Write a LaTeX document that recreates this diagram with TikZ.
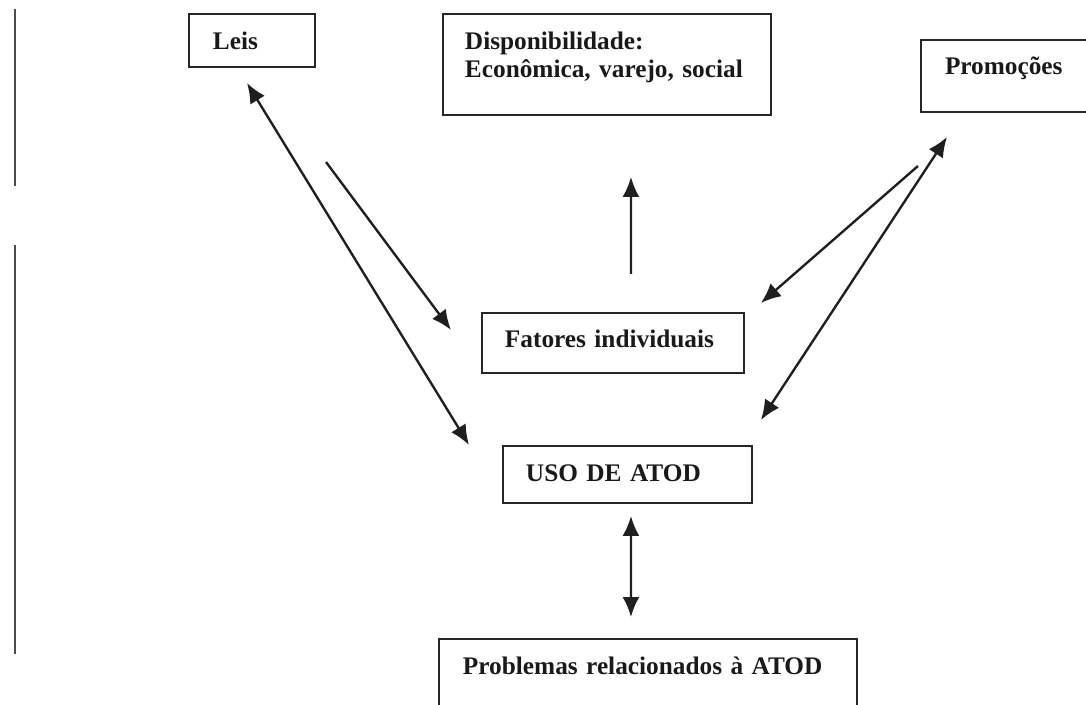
\documentclass[tikz,border=0pt]{standalone}
\usepackage{fontspec}
\setmainfont{Liberation Serif}
\usepackage{tikz}
\usetikzlibrary{calc, arrows.meta, positioning}

\tikzset{
    caixa/.style={
        draw=black!85, line width=1.3pt,
        anchor=north west, inner ysep=0pt, outer sep=0pt,
        align=left, text=black!90,
        font=\bfseries\fontsize{14.4}{15.9}\selectfont
    },
    seta/.style={line width=1.35pt, draw=black!88}
}

\begin{document}
\begin{tikzpicture}[x=0.02cm, y=-0.02cm, >={Latex[length=0.4cm, width=0.34cm]}]

    \useasboundingbox (0,0) rectangle (1086,705);

    % 1. Linhas verticais na margem esquerda
    \draw[line width=1.4pt, black!70] (15,9) -- (15,186);
    \draw[line width=1.4pt, black!70] (15,245) -- (15,654);

    % 2. Caixas
    \node[caixa, text width=1.56cm, inner xsep=0.48cm,
        text height=0.72cm, text depth=0.34cm]
        (leis) at (189,14) {Leis};

    \node[caixa, text width=5.68cm, inner xsep=0.44cm,
        text height=0.72cm, text depth=1.30cm]
        (disp) at (443,14) {Disponibilidade:\\Econômica, varejo, social};

    \node[caixa, text width=2.62cm, inner xsep=0.48cm,
        text height=0.70cm, text depth=0.74cm]
        (promo) at (921,40) {Promoções};

    \node[caixa, text width=4.32cm, inner xsep=0.46cm,
        text height=0.70cm, text depth=0.50cm]
        (fatores) at (482,313) {Fatores individuais};

    \node[caixa, text width=4.06cm, inner xsep=0.46cm,
        text height=0.72cm, text depth=0.42cm]
        (uso) at (503,446) {USO DE ATOD};

    \node[caixa, text width=7.40cm, inner xsep=0.48cm,
        text height=0.72cm, text depth=1.00cm]
        (problemas) at (439,639) {Problemas relacionados à ATOD};

    % 3. Pontas das setas
    \coordinate (leisA) at ($(leis.south)+(-5,16)$);
    \coordinate (usoA) at ($(uso.north west)+(-34,-1)$);
    \coordinate (leisB) at ($(leis.south)+(74,95)$);
    \coordinate (fatoresB) at ($(fatores.west)+(-31,-13)$);
    \coordinate (fatoresC) at ($(fatores.north)+(18,-39)$);
    \coordinate (dispC) at ($(disp.south)+(24,62)$);
    \coordinate (promoD) at ($(promo.south west)+(-3,54)$);
    \coordinate (fatoresD) at ($(fatores.north east)+(17,-10)$);
    \coordinate (promoE) at ($(promo.south west)+(26,25)$);
    \coordinate (usoE) at ($(uso.north east)+(9,-26)$);
    \coordinate (usoF) at ($(uso.south)+(3.5,13)$);
    \coordinate (problemasF) at ($(problemas.north)+(-17,-22)$);

    % 4. Setas
    \draw[seta, <->] (leisA) -- (usoA);
    \draw[seta, ->] (leisB) -- (fatoresB);
    \draw[seta, ->] (fatoresC) -- (dispC);
    \draw[seta, ->] (promoD) -- (fatoresD);
    \draw[seta, <->] (promoE) -- (usoE);
    \draw[seta, <->] (usoF) -- (problemasF);

\end{tikzpicture}
\end{document}
